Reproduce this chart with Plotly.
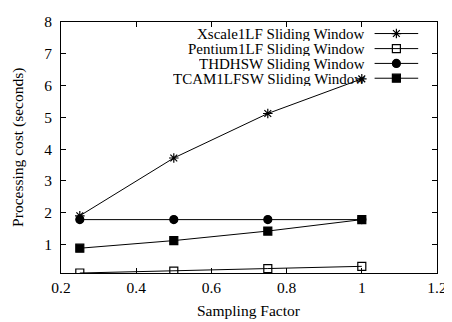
import plotly.graph_objects as go

sampling = [0.25, 0.5, 0.75, 1.0]
xscale = [1.90, 3.72, 5.12, 6.21]
pentium = [0.10, 0.16, 0.24, 0.31]
thdhsw = [1.78, 1.78, 1.78, 1.78]
tcam = [0.88, 1.12, 1.42, 1.78]

series_names = ["Xscale1LF Sliding Window", "Pentium1LF Sliding Window",
                "THDHSW Sliding Window", "TCAM1LFSW Sliding Window"]
series_values = [xscale, pentium, thdhsw, tcam]
symbols = ["asterisk-open", "square-open", "circle", "square"]
sizes = [8, 8, 8, 8]

x_ticks = [0.2, 0.4, 0.6, 0.8, 1.0, 1.2]
x_ticklabels = ["0.2", "0.4", "0.6", "0.8", "1", "1.2"]
y_ticks = [1, 2, 3, 4, 5, 6, 7, 8]

x_title = "Sampling Factor"
y_title = "Processing cost (seconds)"

FONT = "'Liberation Serif', 'Times New Roman', Times, serif"
FS = 15.5
LEG_FS = 15
fig = go.Figure()

for name, vals, sym, sz in zip(series_names, series_values, symbols, sizes):
    fig.add_trace(go.Scatter(
        x=sampling, y=vals, mode="lines+markers", name=name,
        line=dict(color="black", width=1),
        marker=dict(symbol=sym, size=sz, color="black",
                    line=dict(color="black", width=1.2)),
        showlegend=False))

# gnuplot-style legend: right-aligned text, sample on the right
leg_text_x = 0.812
leg_x0, leg_x1 = 0.834, 0.950
leg_rows = [0.954, 0.894, 0.835, 0.776]
for name, sym, sz, ry in zip(series_names, symbols, sizes, leg_rows):
    fig.add_annotation(x=leg_text_x, y=ry, xref="paper", yref="paper",
                       text=name, showarrow=False, xanchor="right",
                       yanchor="middle", height=15, borderpad=0,
                       font=dict(family=FONT, size=LEG_FS, color="black"))
    fig.add_shape(type="line", xref="paper", yref="paper",
                  x0=leg_x0, x1=leg_x1, y0=ry, y1=ry,
                  line=dict(color="black", width=1))
    fig.add_trace(go.Scatter(
        x=[(leg_x0 + leg_x1) / 2], y=[ry], xaxis="x2", yaxis="y2",
        mode="markers", showlegend=False, hoverinfo="skip",
        marker=dict(symbol=sym, size=sz, color="black",
                    line=dict(color="black", width=1.2))))

# axis titles
fig.add_annotation(x=0.5, y=-0.15, xref="paper", yref="paper", text=x_title,
                   showarrow=False, xanchor="center", yanchor="middle",
                   font=dict(family=FONT, size=FS, color="black"))
fig.add_annotation(x=-0.116, y=0.5, xref="paper", yref="paper", text=y_title,
                   showarrow=False, xanchor="center", yanchor="middle", textangle=-90,
                   font=dict(family=FONT, size=FS, color="black"))

axis_common = dict(showline=True, linecolor="black", linewidth=1, mirror="allticks",
                   ticks="inside", ticklen=5, tickcolor="black", tickwidth=1,
                   showgrid=False, zeroline=False, ticklabeloverflow="allow",
                   tickfont=dict(family=FONT, size=FS, color="black"))

# page body has an 8px margin, so the figure is sized/offset to match
fig.update_layout(
    width=444, height=314,
    margin=dict(l=53, r=12, t=5, b=49),
    plot_bgcolor="white", paper_bgcolor="white",
    font=dict(family=FONT, color="black"),
    xaxis=dict(range=[0.2, 1.2], tickvals=x_ticks, ticktext=x_ticklabels,
               ticklabelstandoff=0, **axis_common),
    yaxis=dict(range=[0.1, 8], tickvals=y_ticks, ticklabelstandoff=5,
               **axis_common),
    xaxis2=dict(overlaying="x", range=[0, 1], visible=False),
    yaxis2=dict(overlaying="y", range=[0, 1], visible=False),
)

fig.write_html("out.html")
